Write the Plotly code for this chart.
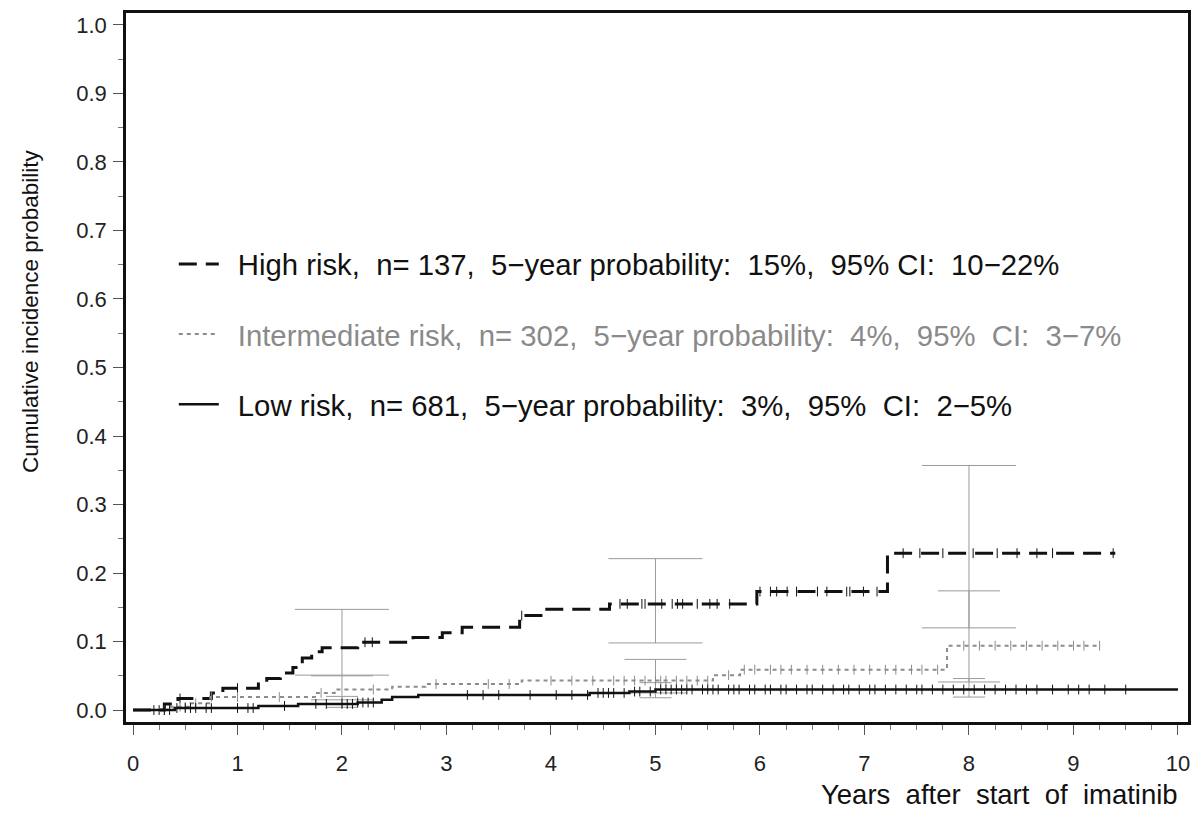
import numpy as np
import plotly.graph_objects as go

# ---------------- data ----------------
high_t = [0, 0.30, 0.43, 0.75, 0.86, 1.20, 1.28, 1.41, 1.53, 1.62, 1.71, 1.81,
          2.15, 2.68, 2.96, 3.15, 3.70, 3.92, 4.56, 5.97, 7.22]
high_y = [0, 0.009, 0.017, 0.025, 0.032, 0.041, 0.046, 0.054, 0.062, 0.076,
          0.085, 0.091, 0.099, 0.106, 0.113, 0.121, 0.138, 0.147, 0.155, 0.173, 0.229]
high_end = 9.40

inter_t = [0, 0.33, 0.55, 0.74, 1.76, 1.93, 2.48, 2.80, 3.72, 5.55, 5.81, 7.79]
inter_y = [0, 0.005, 0.010, 0.019, 0.025, 0.030, 0.034, 0.038, 0.043, 0.051, 0.059, 0.094]
inter_end = 9.25

low_t = [0, 0.40, 1.20, 1.58, 2.15, 2.38, 2.48, 2.73, 4.37, 4.75, 5.00]
low_y = [0, 0.003, 0.006, 0.009, 0.011, 0.015, 0.019, 0.022, 0.025, 0.027, 0.030]
low_end = 10.0

# censoring times
high_cens = [0.45, 1.00, 2.22, 2.29, 3.72, 4.66, 4.73, 4.87, 4.90, 5.06, 5.16, 5.21,
             5.26, 5.40, 5.52, 5.59, 5.71, 6.00, 6.10, 6.16, 6.26, 6.35, 6.55, 6.64,
             6.83, 6.86, 6.99, 7.12, 7.37, 7.53, 7.75, 8.04, 8.27, 8.46, 8.65, 8.80, 9.38]
inter_cens = [0.30, 0.45, 0.50, 0.60, 0.75, 1.00, 1.40, 1.80, 2.30, 2.90, 3.40, 3.60,
              4.00, 4.20, 4.40, 4.60, 4.70, 4.80, 4.90, 5.00, 5.05, 5.10, 5.20, 5.30,
              5.40, 5.50, 5.70, 5.85, 5.95, 6.10, 6.20, 6.30, 6.45, 6.60, 6.75, 6.90,
              7.05, 7.20, 7.30, 7.45, 7.55, 7.70, 7.95, 8.10, 8.25, 8.40, 8.55, 8.70,
              8.85, 9.00, 9.10, 9.25]
low_cens = [0.20, 0.25, 0.30, 0.35, 0.42, 0.50, 0.55, 0.60, 0.70, 0.75, 1.00, 1.10,
            1.15, 1.45, 1.75, 1.85, 2.00, 2.05, 2.10, 2.15, 2.20, 2.25, 2.30, 3.20,
            3.35, 3.50, 3.80, 4.05, 4.20, 4.35, 4.45, 4.50, 4.55, 4.60, 4.70, 4.80,
            4.85, 4.95, 5.05, 5.10, 5.15, 5.20, 5.25, 5.30, 5.35, 5.45, 5.50, 5.55,
            5.60, 5.70, 5.75, 5.80, 5.90, 5.95, 6.05, 6.10, 6.20, 6.25, 6.35, 6.45,
            6.50, 6.60, 6.70, 6.80, 6.85, 6.95, 7.05, 7.10, 7.20, 7.30, 7.40, 7.50,
            7.55, 7.65, 7.75, 7.85, 7.95, 8.05, 8.15, 8.25, 8.35, 8.45, 8.55, 8.65,
            8.80, 8.95, 9.05, 9.15, 9.30, 9.50]

# 95% confidence intervals at 2, 5 and 8 years
ci_x = [2, 5, 8]
high_lo = [0.051, 0.098, 0.120]
high_hi = [0.147, 0.221, 0.357]
inter_lo = [0.015, 0.025, 0.041]
inter_hi = [0.050, 0.074, 0.174]
low_lo = [0.004, 0.018, 0.019]
low_hi = [0.020, 0.040, 0.046]

names = [
    "High risk,  n= 137,  5\u2212year probability:  15%,  95% CI:  10\u221222%",
    "Intermediate risk,  n= 302,  5\u2212year probability:  4%,  95%  CI:  3\u22127%",
    "Low risk,  n= 681,  5\u2212year probability:  3%,  95%  CI:  2\u22125%",
]
x_ticks = [0, 1, 2, 3, 4, 5, 6, 7, 8, 9, 10]
y_ticks = [0.0, 0.1, 0.2, 0.3, 0.4, 0.5, 0.6, 0.7, 0.8, 0.9, 1.0]

# ---------------- helpers ----------------
def step_eval(ts, ys, x):
    idx = np.searchsorted(np.array(ts), np.array(x), side="right") - 1
    return np.array(ys)[idx]

FONT = "Liberation Sans, Arial, Helvetica, sans-serif"
fig = go.Figure()

groups = [
    (high_t, high_y, high_end, high_cens, high_lo, high_hi,
     dict(color="#111111", width=3, dash="18px,9px"), 47, names[0], "#111111"),
    (inter_t, inter_y, inter_end, inter_cens, inter_lo, inter_hi,
     dict(color="#8c8c8c", width=2, dash="4px,4px"), 31, names[1], "#8a8a8a"),
    (low_t, low_y, low_end, low_cens, low_lo, low_hi,
     dict(color="#111111", width=2.5), 16, names[2], "#111111"),
]

# CI bars first (drawn beneath curves)
for ts, ys, end, cens, lo, hi, line, hw, name, tcol in groups:
    est = step_eval(ts, ys, ci_x)
    fig.add_trace(go.Scatter(
        x=ci_x, y=est, mode="markers", marker=dict(size=0.1, opacity=0),
        showlegend=False, hoverinfo="skip",
        error_y=dict(type="data", symmetric=False,
                     array=list(np.array(hi) - est),
                     arrayminus=list(est - np.array(lo)),
                     color="#9a9a9a", thickness=1, width=hw),
    ))

for i, (ts, ys, end, cens, lo, hi, line, hw, name, tcol) in enumerate(groups):
    fig.add_trace(go.Scatter(
        x=list(ts) + [end], y=list(ys) + [ys[-1]], mode="lines",
        line=dict(shape="hv", **line),
        name='<span style="color:%s"> \u2009%s</span>' % (tcol, name),
        legendgroup="g%d" % i, hoverinfo="skip",
    ))
    fig.add_trace(go.Scatter(
        x=cens, y=step_eval(ts, ys, cens), mode="markers",
        marker=dict(symbol="line-ns", size=7,
                    line=dict(color=line["color"], width=1)),
        showlegend=False, legendgroup="g%d" % i, hoverinfo="skip",
    ))

fig.update_layout(
    width=1202, height=832,
    margin=dict(l=126, r=14, t=10, b=110),
    paper_bgcolor="white", plot_bgcolor="white",
    font=dict(family=FONT, size=22, color="#222222"),
    showlegend=True,
    legend=dict(x=0.045, y=0.682, xanchor="left", yanchor="top",
                bgcolor="rgba(0,0,0,0)", font=dict(size=29.3, color="#111111"),
                tracegroupgap=29, traceorder="grouped", itemwidth=40),
    xaxis=dict(range=[-0.067, 10.096], tickvals=x_ticks,
               ticktext=[str(v) for v in x_ticks],
               showgrid=False, zeroline=False, showline=True, mirror=True,
               linecolor="#111111", linewidth=2.5,
               ticks="outside", ticklen=10, tickcolor="#555555", tickwidth=1,
               ticklabelstandoff=10,
               minor=dict(dtick=0.25, tick0=0, ticks="outside", ticklen=5,
                          tickcolor="#777777", tickwidth=1, showgrid=False),
               tickfont=dict(size=22)),
    yaxis=dict(range=[-0.0174, 1.0174], tickvals=y_ticks,
               ticktext=["%.1f" % v for v in y_ticks],
               showgrid=False, zeroline=False, showline=True, mirror=True,
               linecolor="#111111", linewidth=2.5,
               ticks="outside", ticklen=10, tickcolor="#555555", tickwidth=1,
               ticklabelstandoff=2,
               minor=dict(dtick=0.05, tick0=0, ticks="outside", ticklen=5,
                          tickcolor="#777777", tickwidth=1, showgrid=False),
               tickfont=dict(size=22)),
    annotations=[
        dict(text="Cumulative incidence probability", textangle=-90,
             xref="paper", yref="paper", x=-0.090, y=0.579,
             xanchor="center", yanchor="middle", showarrow=False,
             font=dict(size=22.5, color="#111111")),
        dict(text="Years  after  start  of  imatinib",
             xref="paper", yref="paper", x=0.9925, y=-0.1025,
             xanchor="right", yanchor="middle", showarrow=False,
             font=dict(size=27.5, color="#111111")),
    ],
)

fig.write_html("out.html")
